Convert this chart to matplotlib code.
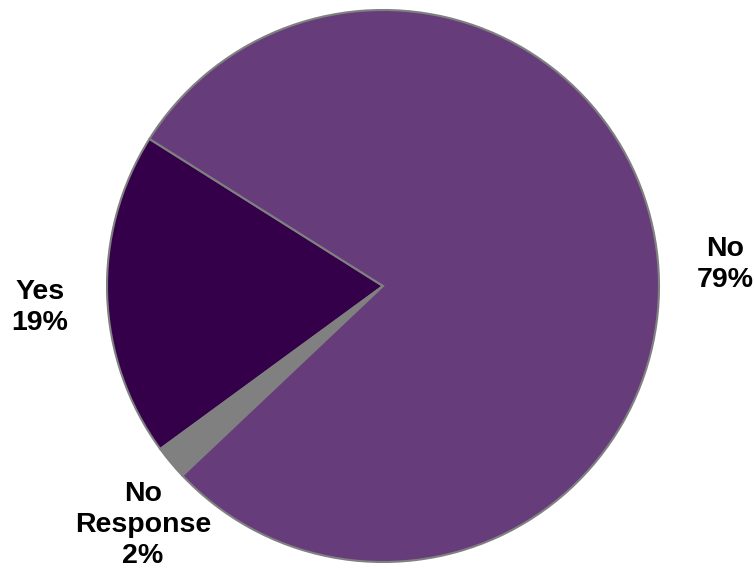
import matplotlib.pyplot as plt

# Survey answers
labels = ['Yes', 'No\nResponse', 'No']
shares = [19, 2, 79]
colors = ['#330049', '#808080', '#663D7A']

fig = plt.figure(figsize=(7.54, 5.69), dpi=100)
ax = fig.add_axes([0, 0, 1, 1])

# work in pixel-like data units so the pie sits where we want it
cx, cy, r = 383, 283, 276
ax.pie(shares, colors=colors, startangle=147.8, counterclock=True,
       center=(cx, cy), radius=r,
       wedgeprops=dict(edgecolor='#808080', linewidth=1.5))
ax.set_xlim(0, 754)
ax.set_ylim(0, 569)
ax.set_aspect('equal')
ax.axis('off')

# label positions beside each slice
label_pos = [(40, 262), (143, 44), (725, 305)]
for lab, val, (x, y) in zip(labels, shares, label_pos):
    ax.text(x, y, f'{lab}\n{val}%', ha='center', va='center',
            fontsize=20.5, fontweight='bold', family='Liberation Sans',
            linespacing=1.25)

fig.savefig('out.png', dpi=100)
